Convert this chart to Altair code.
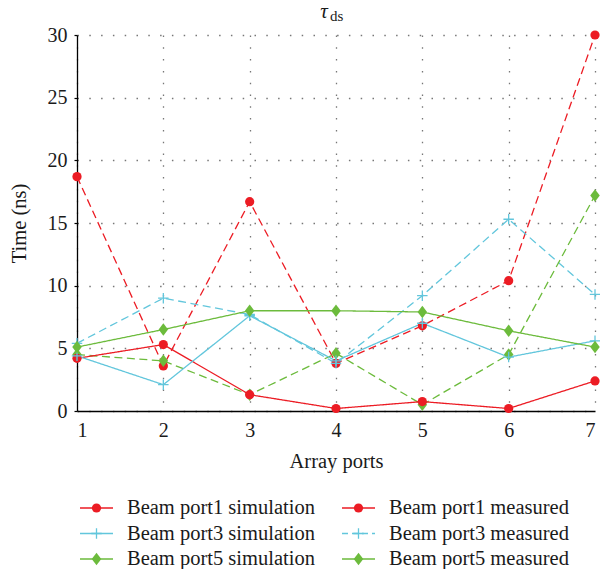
import altair as alt
import pandas as pd

ports = [1, 2, 3, 4, 5, 6, 7]
p1_sim = [4.2, 5.3, 1.3, 0.2, 0.75, 0.2, 2.4]
p1_meas = [18.7, 3.6, 16.7, 3.8, 6.8, 10.4, 30.0]
p3_sim = [4.4, 2.1, 7.6, 4.0, 7.0, 4.3, 5.6]
p3_meas = [5.4, 9.0, 7.7, 3.8, 9.2, 15.3, 9.3]
p5_sim = [5.1, 6.5, 8.0, 8.0, 7.9, 6.4, 5.1]
p5_meas = [4.5, 4.0, 1.3, 4.6, 0.5, 4.5, 17.2]

names = ["Beam port1 simulation", "Beam port3 simulation", "Beam port5 simulation",
         "Beam port1 measured", "Beam port3 measured", "Beam port5 measured"]
values = [p1_sim, p3_sim, p5_sim, p1_meas, p3_meas, p5_meas]
y_ticks = [0, 5, 10, 15, 20, 25, 30]

RED = "#EC1C24"
CYAN = "#62C6DC"
GREEN = "#6CBB3C"
PLUS = "M-1,0H1M0,-1V1"
DIAM = "M0,-1.25L0.95,0L0,1.25L-0.95,0Z"
FONT = "Liberation Serif"
DASH = [8, 4.5]
TXT = "#1a1a1a"

styles = [
    dict(color=RED, dash=[1, 0], shape="circle", filled=True, size=85, ldash=[1, 0]),
    dict(color=CYAN, dash=[1, 0], shape=PLUS, filled=False, size=110, ldash=[1, 0]),
    dict(color=GREEN, dash=[1, 0], shape=DIAM, filled=True, size=100, ldash=[1, 0]),
    dict(color=RED, dash=DASH, shape="circle", filled=True, size=85, ldash=[1, 0]),
    dict(color=CYAN, dash=DASH, shape=PLUS, filled=False, size=110, ldash=[6, 4]),
    dict(color=GREEN, dash=DASH, shape=DIAM, filled=True, size=100, ldash=[1, 0]),
]

xenc = alt.X("port:Q", scale=alt.Scale(domain=[1, 7], nice=False),
             axis=alt.Axis(values=ports, format="d", title="Array ports"))
yenc = alt.Y("time:Q", scale=alt.Scale(domain=[0, 30], nice=False),
             axis=alt.Axis(values=y_ticks, title="Time (ns)"))


def point_kw(st):
    kw = dict(shape=st["shape"], size=st["size"], opacity=1)
    if st["filled"]:
        kw.update(filled=True, color=st["color"], strokeWidth=0)
    else:
        kw.update(filled=False, stroke=st["color"], strokeWidth=1.3, fill=None)
    return kw


layers = []
order = [3, 4, 5, 0, 1, 2]
for i in order:
    st = styles[i]
    df = pd.DataFrame({"port": ports, "time": values[i], "series": names[i]})
    layers.append(alt.Chart(df).mark_line(color=st["color"], strokeWidth=1.3,
                                          strokeDash=st["dash"]).encode(x=xenc, y=yenc))
for i in order:
    st = styles[i]
    df = pd.DataFrame({"port": ports, "time": values[i], "series": names[i]})
    layers.append(alt.Chart(df).mark_point(**point_kw(st)).encode(x=xenc, y=yenc))

# manual legend below the plot: two columns of three rows
for k, name in enumerate(names):
    st = styles[k]
    col, row = divmod(k, 3)
    x0 = 3 + col * 262
    yy = 473 + row * 25.5
    lb = alt.Chart(pd.DataFrame({"name": [name]}))
    layers.append(lb.mark_rule(color=st["color"], strokeWidth=1.3,
                               strokeDash=st["ldash"]).encode(
        x=alt.value(x0), x2=alt.value(x0 + 33), y=alt.value(yy)))
    layers.append(lb.mark_point(**point_kw(st)).encode(x=alt.value(x0 + 16.5), y=alt.value(yy)))
    layers.append(lb.mark_text(align="left", baseline="middle", font=FONT, fontSize=20.5,
                               color=TXT).encode(
        x=alt.value(x0 + 47), y=alt.value(yy), text="name:N"))

# title: tau with subscript ds
tdf = pd.DataFrame({"t": ["\u03c4"], "s": ["ds"]})
layers.append(alt.Chart(tdf).mark_text(align="center", baseline="alphabetic", font=FONT,
                                       fontStyle="italic", fontSize=21, color=TXT).encode(
    x=alt.value(247), y=alt.value(-17), text="t:N"))
layers.append(alt.Chart(tdf).mark_text(align="left", baseline="alphabetic", font=FONT,
                                       fontSize=15, color=TXT).encode(
    x=alt.value(253), y=alt.value(-14), text="s:N"))

chart = alt.layer(*layers).properties(
    width=518, height=376,
    autosize=alt.AutoSizeParams(type="none"),
    padding={"left": 69, "top": 27, "right": 5, "bottom": 158},
).configure_view(stroke=None).configure_axis(
    labelFont=FONT, titleFont=FONT, labelFontSize=20, titleFontSize=20.5,
    titleFontWeight="normal", labelColor=TXT, titleColor=TXT,
    domainColor="black", domainWidth=1.3, tickColor="black", tickWidth=1.2,
    gridColor="#777777", gridDash=[1.5, 10.3], gridWidth=1.3, gridOpacity=1,
).configure_axisY(
    tickSize=3, labelPadding=7, titlePadding=18,
).configure_axisX(
    ticks=False, labelPadding=9, titlePadding=11,
)

chart.save("out.html", embed_options={"renderer": "svg", "actions": False})
